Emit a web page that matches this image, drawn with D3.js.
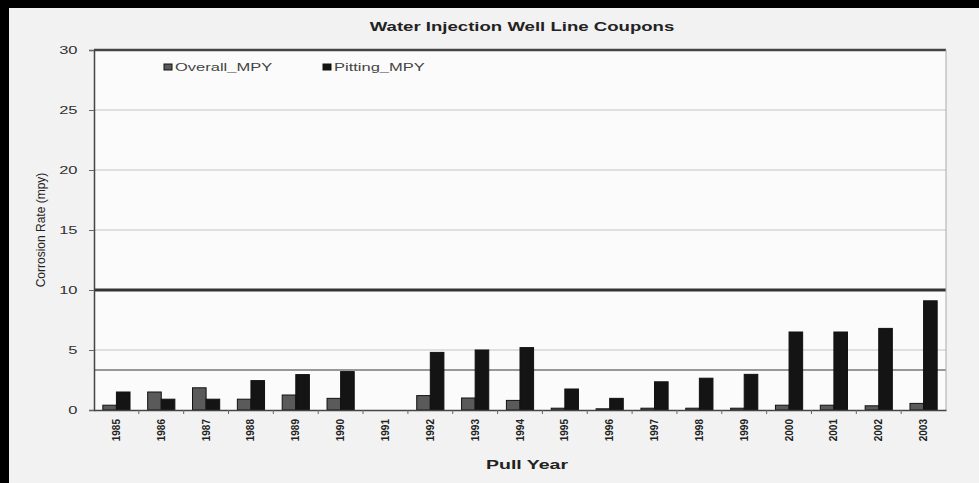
<!DOCTYPE html>
<html>
<head>
<meta charset="utf-8">
<script src="https://cdn.jsdelivr.net/npm/d3@7"></script>
<style>
  html, body { margin: 0; padding: 0; background: #f2f2f2; overflow: hidden; }
  svg { display: block; font-family: Arial, "Liberation Sans", sans-serif; }
</style>
</head>
<body>
<svg id="chart"></svg>
<script>
// pull years on the x axis
const years = ["1985", "1986", "1987", "1988", "1989", "1990", "1991", "1992", "1993", "1994",
  "1995", "1996", "1997", "1998", "1999", "2000", "2001", "2002", "2003"];

// corrosion rates (mpy); 1991 has no coupons
const overallMpy = [0.4, 1.5, 1.85, 0.9, 1.25, 0.97, null, 1.2, 1.0, 0.8,
  0.15, 0.1, 0.15, 0.15, 0.15, 0.4, 0.4, 0.35, 0.55];
const pittingMpy = [1.5, 0.9, 0.9, 2.45, 2.95, 3.2, null, 4.8, 5.0, 5.2,
  1.75, 0.97, 2.35, 2.65, 2.97, 6.5, 6.5, 6.8, 9.1];

const yTicks = [0, 5, 10, 15, 20, 25, 30];
const seriesNames = ["Overall_MPY", "Pitting_MPY"];

// limit lines drawn across the plot
const limitLines = [10, 3.33];

const W = 979, H = 483;
const margin = { top: 50, right: 33, bottom: 73, left: 94 };
const width = W - margin.left - margin.right;
const height = H - margin.top - margin.bottom;
const stretch = 1.5; // the scan is wider than tall, text looks stretched

const svg = d3.select('#chart').attr('width', W).attr('height', H);

// scanned page background with dark frame on top / left
svg.append('rect').attr('width', W).attr('height', H).attr('fill', '#f2f2f2');
svg.append('rect').attr('width', W).attr('height', 8).attr('fill', '#000');
svg.append('rect').attr('width', 9).attr('height', H).attr('fill', '#000');

const g = svg.append('g').attr('transform', `translate(${margin.left},${margin.top})`);

const x0 = d3.scaleBand().domain(years).range([0, width]).paddingInner(0).paddingOuter(0);
const x1 = d3.scaleBand().domain(seriesNames).range([0, x0.bandwidth()]).paddingInner(0).paddingOuter(0.65);
const y = d3.scaleLinear().domain([0, 30]).range([height, 0]);

// plot area
g.append('rect').attr('width', width).attr('height', height).attr('fill', '#fbfbfb');

// gridlines
g.append('g')
  .selectAll('line')
  .data(yTicks.filter(d => d > 0 && d < 30))
  .join('line')
  .attr('x1', 0).attr('x2', width)
  .attr('y1', d => y(d)).attr('y2', d => y(d))
  .attr('stroke', '#c4c4c4').attr('stroke-width', 1.2);

// limit lines
g.append('g')
  .selectAll('line')
  .data(limitLines)
  .join('line')
  .attr('x1', 0).attr('x2', width)
  .attr('y1', d => y(d)).attr('y2', d => y(d))
  .attr('stroke', (d, i) => i === 0 ? '#333' : '#777')
  .attr('stroke-width', (d, i) => i === 0 ? 3 : 1.6);

// top border and right border
g.append('line').attr('x1', 0).attr('x2', width).attr('y1', 0).attr('y2', 0)
  .attr('stroke', '#444').attr('stroke-width', 2.5);
g.append('line').attr('x1', width).attr('x2', width).attr('y1', 0).attr('y2', height)
  .attr('stroke', '#aaa').attr('stroke-width', 1);

// bars
const barData = years.map((yr, i) => ({
  year: yr,
  values: [
    { key: seriesNames[0], value: overallMpy[i] },
    { key: seriesNames[1], value: pittingMpy[i] }
  ]
}));

const color = d3.scaleOrdinal().domain(seriesNames).range(['#5a5a5a', '#141414']);

g.append('g')
  .selectAll('g')
  .data(barData)
  .join('g')
  .attr('transform', d => `translate(${x0(d.year)},0)`)
  .selectAll('rect')
  .data(d => d.values.filter(v => v.value != null))
  .join('rect')
  .attr('x', d => x1(d.key))
  .attr('y', d => y(d.value))
  .attr('width', x1.bandwidth())
  .attr('height', d => y(0) - y(d.value))
  .attr('fill', d => color(d.key))
  .attr('stroke', '#111')
  .attr('stroke-width', 1);

// y axis
const yAxis = g.append('g')
  .call(d3.axisLeft(y).tickValues(yTicks).tickSize(5).tickPadding(6));
yAxis.select('.domain').attr('stroke', '#444').attr('stroke-width', 1.5);
yAxis.selectAll('.tick line').attr('stroke', '#666');
yAxis.selectAll('text')
  .attr('font-size', 11).attr('fill', '#333')
  .attr('transform', `scale(${stretch},1)`);

// x axis
const xAxis = g.append('g')
  .attr('transform', `translate(0,${height})`)
  .call(d3.axisBottom(x0).tickSize(0).tickPadding(8));
xAxis.select('.domain').attr('stroke', '#444').attr('stroke-width', 1.5);
xAxis.selectAll('text')
  .attr('font-size', 10).attr('font-weight', 'bold').attr('fill', '#222')
  .attr('transform', 'rotate(-90)')
  .attr('text-anchor', 'end')
  .attr('x', -9).attr('y', 0).attr('dy', '0.35em');
// small tick marks between categories
xAxis.append('g')
  .selectAll('line')
  .data(years.slice(1))
  .join('line')
  .attr('x1', d => x0(d)).attr('x2', d => x0(d))
  .attr('y1', 0).attr('y2', 4)
  .attr('stroke', '#666');

// title
svg.append('text')
  .attr('transform', `translate(522,31) scale(${stretch + 0.05},1)`)
  .attr('text-anchor', 'middle')
  .attr('font-size', 12).attr('font-weight', 'bold').attr('fill', '#222')
  .text('Water Injection Well Line Coupons');

// axis titles
svg.append('text')
  .attr('transform', `translate(45,${margin.top + height / 2}) rotate(-90)`)
  .attr('text-anchor', 'middle')
  .attr('font-size', 12).attr('fill', '#222')
  .text('Corrosion Rate (mpy)');

svg.append('text')
  .attr('transform', `translate(527,469) scale(${stretch},1)`)
  .attr('text-anchor', 'middle')
  .attr('font-size', 13).attr('font-weight', 'bold').attr('fill', '#222')
  .text('Pull Year');

// legend
const legendX = [164, 323];
const legend = svg.append('g')
  .selectAll('g')
  .data(seriesNames)
  .join('g')
  .attr('transform', (d, i) => `translate(${legendX[i]},68)`);
legend.append('rect')
  .attr('x', 0).attr('y', -4).attr('width', 8).attr('height', 6)
  .attr('fill', d => color(d)).attr('stroke', '#111');
legend.append('text')
  .attr('transform', `translate(11,3) scale(${stretch},1)`)
  .attr('font-size', 11).attr('fill', '#444')
  .text(d => d);
</script>
</body>
</html>
